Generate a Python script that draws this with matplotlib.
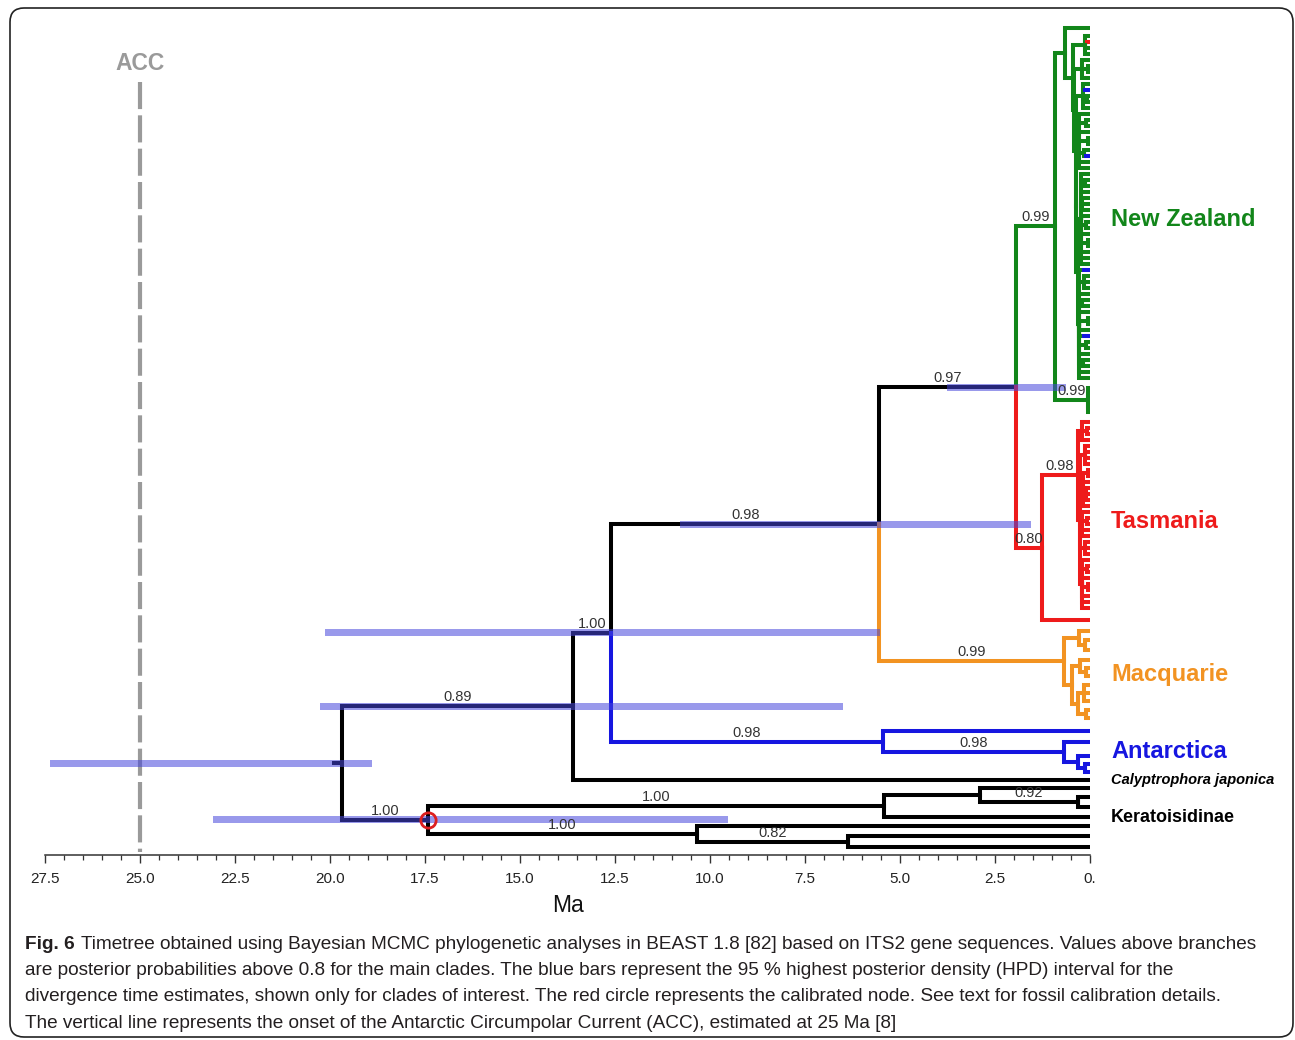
import matplotlib.pyplot as plt
from matplotlib.patches import FancyBboxPatch
from matplotlib.ticker import FixedLocator, MultipleLocator
from matplotlib.transforms import IdentityTransform

plt.rcParams['font.family'] = ['Liberation Sans', 'DejaVu Sans']

GREEN = '#12861a'
RED = '#ee1b1b'
ORANGE = '#f29322'
BLUE = '#1616e0'
BLACK = '#000000'
HPD_BLUE = '#4646dc'


def N(age, kids, color=None, name=None):
    return {'age': age, 'kids': kids, 'color': color, 'tip': None, 'name': name}


def L(y, color=None, name=None):
    return {'age': 0.0, 'y': y, 'kids': [], 'color': None, 'tip': color, 'name': name}


# tree: node ages in Ma, tips given by their row (top -> bottom)
nz_s1 = N(0.14, [36, (42, RED), 48, 54])
nz_s2 = N(0.20, [60, N(0.06, [66, 72]), 78])
nz_s3 = N(0.18, [84, (90, BLUE), N(0.08, [96, 102]), 108])
nz_s4 = N(0.30, [114, N(0.10, [120, 126]), 132, N(0.05, [138, 144]),
                 N(0.15, [150, (156, BLUE)]), 162, 168])
nz_s5 = N(0.24, [174, N(0.12, [180, 186]), 192, N(0.20, [198, 204, 210]), 216,
                 N(0.10, [222, 228]), 234, N(0.06, [240, 246]), 252, 258, 264])
nz_s6 = N(0.28, [(270, BLUE), N(0.15, [276, 282, 288]), 294, N(0.22, [300, 306]), 312,
                 N(0.05, [318, 324]), 330, (336, BLUE), N(0.10, [342, 348]), 354,
                 N(0.18, [360, 366]), 372, 378])
nz_ladder = N(0.45, [nz_s1, N(0.41, [nz_s2, N(0.38, [nz_s3, N(0.36, [nz_s4,
              N(0.32, [nz_s5, nz_s6])])])])])
new_zealand = N(0.92, [N(0.66, [28, nz_ladder]),
                       N(0.06, [388, 394, 400, 406, 412], name='nzb')], GREEN, 'nz')

tas_a = N(0.32, [N(0.22, [422, N(0.08, [428, 434]), 440]),
                 N(0.27, [N(0.12, [446, 452, 458, 464]),
                          N(0.18, [N(0.06, [470, 476]), 482, N(0.10, [488, 494, 500]), 506]),
                          N(0.20, [512, N(0.07, [518, 524]), 530, 536]),
                          N(0.14, [542, 548, 554]),
                          N(0.22, [560, N(0.09, [566, 572]), 578, N(0.05, [584, 590]),
                                   596, 602, 608])])],
          name='tasa')
tasmania = N(1.26, [tas_a, 620], RED, 'tas')

macquarie = N(0.68, [N(0.30, [631, N(0.12, [640, 650])]),
                     N(0.47, [N(0.26, [660, N(0.10, [668, 676])]),
                              N(0.32, [N(0.15, [685, 693, 701]), N(0.10, [710, 718])])])],
              ORANGE, 'mac')

antarctica = N(5.45, [731, N(0.68, [742, N(0.32, [756, N(0.12, [764, 772])])], name='antb')],
               BLUE, 'ant')

keratoisidinae = N(17.42, [N(5.42, [N(2.9, [788, N(0.32, [797, 807], name='k1b')]), 817],
                             name='k1'),
                           N(10.34, [826, N(6.37, [836, 847], name='k2a')], name='k2')],
                   name='ker')

x4 = N(1.95, [new_zealand, tasmania], name='x4')
x3 = N(5.55, [x4, macquarie], name='x3')
x2 = N(12.6, [x3, antarctica], name='x2')
x1 = N(13.6, [x2, L(780, name='caly')], name='x1')
root = N(19.68, [x1, keratoisidinae], BLACK, 'root')
root_stem = 19.9
calibrated = 'ker'

support = [('x1', '0.89'), ('x2', '1.00'), ('x3', '0.98'), ('x4', '0.97'),
           ('nz', '0.99'), ('nzb', '0.99'), ('tasa', '0.98'), ('tas', '0.80'),
           ('mac', '0.99'), ('ant', '0.98'), ('antb', '0.98'), ('ker', '1.00'),
           ('k1', '1.00'), ('k2', '1.00'), ('k1b', '0.92'), ('k2a', '0.82')]

# 95% HPD intervals (older, younger) in Ma
hpd = [('root', 27.37, 18.9), ('x1', 20.26, 6.5), ('x2', 20.13, 5.53),
       ('x3', 10.79, 1.55), ('x4', 3.76, 0.63), ('ker', 23.08, 9.53)]

clades = [('nz', 'New Zealand', GREEN), ('tas', 'Tasmania', RED),
          ('mac', 'Macquarie', ORANGE), ('ant', 'Antarctica', BLUE),
          ('caly', 'Calyptrophora japonica', BLACK), ('ker', 'Keratoisidinae', BLACK)]

acc_age = 25.0
tick_values = [27.5, 25.0, 22.5, 20.0, 17.5, 15.0, 12.5, 10.0, 7.5, 5.0, 2.5, 0.0]

caption_bold = 'Fig. 6'
caption = [
    'Fig. 6 Timetree obtained using Bayesian MCMC phylogenetic analyses in BEAST 1.8 [82] '
    'based on ITS2 gene sequences. Values above branches',
    'are posterior probabilities above 0.8 for the main clades. The blue bars represent the '
    '95 % highest posterior density (HPD) interval for the',
    'divergence time estimates, shown only for clades of interest. The red circle represents '
    'the calibrated node. See text for fossil calibration details.',
    'The vertical line represents the onset of the Antarctic Circumpolar Current (ACC), '
    'estimated at 25 Ma [8]',
]


def prepare(node, color, index):
    kids = []
    for k in node['kids']:
        if isinstance(k, (int, float)):
            k = L(k)
        elif isinstance(k, tuple):
            k = L(k[0], k[1])
        kids.append(k)
    node['kids'] = kids
    node['color'] = node['color'] or color
    if node['name']:
        index[node['name']] = node
    for k in kids:
        k['parent'] = node
        prepare(k, node['color'], index)
    if kids:
        node['y'] = (kids[0]['y'] + kids[-1]['y']) / 2
        node['tips'] = (kids[0]['tips'][0], kids[-1]['tips'][1])
    else:
        node['tips'] = (node['y'], node['y'])


LW = 2.9


def draw(ax, node):
    a = node['age']
    for k in node['kids']:
        ax.plot([a, a, k['age']], [node['y'], k['y'], k['y']], color=k['color'], lw=LW,
                solid_joinstyle='miter', solid_capstyle='projecting', zorder=2)
        if k['tip']:
            ax.plot([min(a, 0.2), 0], [k['y'], k['y']], color=k['tip'], lw=LW,
                    solid_capstyle='butt', zorder=2)
        draw(ax, k)


nodes = {}
prepare(root, BLACK, nodes)

W, H = 1295, 1040
fig = plt.figure(figsize=(W / 100, H / 100), dpi=100)
ax = fig.add_axes([45 / W, (H - 855) / H, 1045 / W, 835 / H])
ax.set_xlim(27.5, 0)
ax.set_ylim(855, 20)

# ACC line
ax.plot([acc_age, acc_age], [82, 852], color='#9a9a9a', lw=3.0, ls=(0, (6.5, 1.5)), zorder=1)
ax.text(acc_age, 63, 'ACC', color='#9a9a9a', fontsize=16.5, fontweight='bold',
        ha='center', va='center')

# tree
ax.plot([root_stem, root['age']], [root['y'], root['y']], color=BLACK, lw=LW, zorder=2)
draw(ax, root)

# HPD bars
for name, old, young in hpd:
    ax.barh(nodes[name]['y'], old - young, left=young, height=7, color=HPD_BLUE,
            alpha=0.55, zorder=3, linewidth=0)

# calibrated node
cal = nodes[calibrated]
ax.plot(cal['age'], cal['y'], 'o', ms=11, mfc='none', mec='#dd1f1f', mew=2, zorder=4)

# posterior support
for name, txt in support:
    nd = nodes[name]
    mid = (nd['parent']['age'] + nd['age']) / 2
    ax.annotate(txt, xy=(mid, nd['y']), xytext=(0, 2), textcoords='offset pixels',
                ha='center', va='bottom', fontsize=10.5, color='#333333', zorder=5)

# clade labels
for name, txt, col in clades:
    lo, hi = nodes[name]['tips']
    if name == 'caly':
        kw = dict(fontsize=10.5, fontstyle='italic', fontweight='bold')
    elif name == 'ker':
        kw = dict(fontsize=13, fontweight='bold')
    else:
        kw = dict(fontsize=17, fontweight='bold')
    ax.annotate(txt, xy=(0, (lo + hi) / 2), xytext=(21, 0), textcoords='offset pixels',
                ha='left', va='center', color=col, annotation_clip=False, **kw)

# axis
for s in ('top', 'left', 'right'):
    ax.spines[s].set_visible(False)
ax.spines['bottom'].set_color('#333333')
ax.spines['bottom'].set_linewidth(1.1)
ax.set_yticks([])
ax.xaxis.set_major_locator(FixedLocator(tick_values))
ax.set_xticklabels(['0.' if v == 0 else f'{v:.1f}' for v in tick_values])
ax.xaxis.set_minor_locator(MultipleLocator(0.5))
ax.tick_params(axis='x', which='major', length=6, width=1.0, color='#333333',
               labelsize=11, labelcolor='#222222', pad=6)
ax.tick_params(axis='x', which='minor', length=3.5, width=0.9, color='#333333')
ax.set_xlabel('Ma', fontsize=16.5, labelpad=6, color='#111111')

# caption
renderer = fig.canvas.get_renderer()
probe = fig.text(0, 0, caption[0], fontsize=10)
cap_size = 10 * 1232 / probe.get_window_extent(renderer).width
probe.remove()
cap_color = '#231f20'
baselines = [949, 975, 1001, 1028]
bold = fig.text(25 / W, (H - baselines[0]) / H, caption_bold, fontsize=cap_size,
                fontweight='bold', color=cap_color, va='baseline')
ax.annotate(caption[0][len(caption_bold):].lstrip(), xy=(1, 0), xycoords=bold,
            xytext=(cap_size * 0.35, 0), textcoords='offset points', va='bottom',
            fontsize=cap_size, color=cap_color, annotation_clip=False)
for line, yb in zip(caption[1:], baselines[1:]):
    fig.text(25 / W, (H - yb) / H, line, fontsize=cap_size, color=cap_color, va='baseline')

# frame around the figure
fig.add_artist(FancyBboxPatch((10, 3), 1283, 1029, boxstyle='round,pad=0,rounding_size=14',
                              transform=IdentityTransform(), fill=False, ec='#222222', lw=1.2))

fig.savefig('out.png', dpi=100)
